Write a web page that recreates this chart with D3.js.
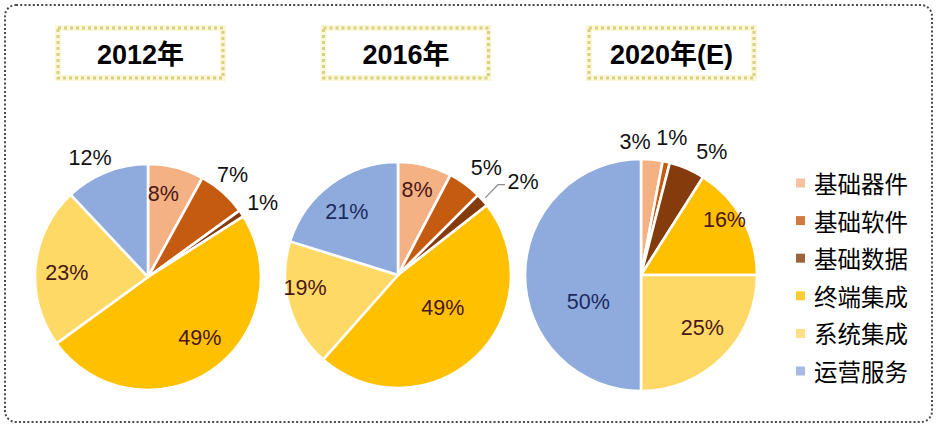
<!DOCTYPE html>
<html>
<head>
<meta charset="utf-8">
<script src="https://cdn.jsdelivr.net/npm/d3@7"></script>
<style>
  html, body { margin: 0; padding: 0; background: #fff; }
  svg { display: block; }
</style>
</head>
<body>
<svg id="chart" width="940" height="427"></svg>
<script>
// ---------------- data ----------------
const categories = ['基础器件', '基础软件', '基础数据', '终端集成', '系统集成', '运营服务'];
const years = ['2012年', '2016年', '2020年(E)'];
const values2012 = [8, 7, 1, 49, 23, 12];
const values2016 = [8, 5, 2, 49, 19, 21];
const values2020 = [3, 1, 5, 16, 25, 50];
const colors = ['#F4B183', '#C55A11', '#843C0C', '#FFC000', '#FFD966', '#8FAADC'];

// ---------------- layout ----------------
const W = 940, H = 427;
const svg = d3.select('#chart');
const labelFont = '"Liberation Sans", Arial, "Noto Sans CJK SC", sans-serif';
const cjkFont = '"Noto Sans CJK SC", "Noto Sans", sans-serif';

const pies = [
  { year: years[0], values: values2012, cx: 148, cy: 277, r: 113, boxCx: 140.5,
    // [radius factor, angle shift (deg), outside?]
    labels: [[0.75, -4, 0], [1.17, -1.6, 1], [1.21, 1.2, 1], [0.71, -6, 0], [0.72, -2.6, 0], [1.17, -4.4, 1]] },
  { year: years[1], values: values2016, cx: 398, cy: 275, r: 113, boxCx: 406,
    labels: [[0.77, -1.2, 0], [1.23, 3.1, 1], [1.38, 4.8, 2], [0.49, -10.7, 0], [0.83, 7.6, 0], [0.72, -2.7, 0]] },
  { year: years[2], values: values2020, cx: 641, cy: 275, r: 116, boxCx: 671.5,
    labels: [[1.15, -8, 1], [1.21, 0.1, 1], [1.22, 6.6, 1], [0.86, -4.4, 0], [0.70, -4, 0], [0.51, -27, 0]] }
];

// outer dotted rounded frame
svg.append('rect')
  .attr('x', 5).attr('y', 5).attr('width', 927).attr('height', 417)
  .attr('rx', 11).attr('ry', 11)
  .attr('fill', 'none').attr('stroke', '#4a4a4a')
  .attr('stroke-width', 2).attr('stroke-dasharray', '2,2.2');

const pieGen = d3.pie().sort(null).value(d => d);

pies.forEach(p => {
  // title box
  const bw = 165, bh = 50, by = 28;
  const g = svg.append('g');
  g.append('rect')
    .attr('x', p.boxCx - bw / 2).attr('y', by).attr('width', bw).attr('height', bh)
    .attr('fill', 'none').attr('stroke', '#FBF7D6').attr('stroke-width', 6);
  g.append('rect')
    .attr('x', p.boxCx - bw / 2).attr('y', by).attr('width', bw).attr('height', bh)
    .attr('fill', 'none').attr('stroke', '#D8D083').attr('stroke-width', 3)
    .attr('stroke-dasharray', '3,3');
  g.append('text')
    .attr('x', p.boxCx).attr('y', by + bh / 2 + 2)
    .attr('text-anchor', 'middle').attr('dominant-baseline', 'central')
    .attr('font-family', labelFont).attr('font-weight', 'bold')
    .attr('font-size', 27).attr('fill', '#000')
    .text(p.year);

  // pie
  const arcs = pieGen(p.values);
  const arc = d3.arc().innerRadius(0).outerRadius(p.r);
  const pg = svg.append('g').attr('transform', `translate(${p.cx},${p.cy})`);
  pg.selectAll('path').data(arcs).enter().append('path')
    .attr('d', arc)
    .attr('fill', (d, i) => colors[i])
    .attr('stroke', '#fff').attr('stroke-width', 2.6)
    .attr('stroke-linejoin', 'round');

  // labels
  arcs.forEach((d, i) => {
    const [rf, shift, mode] = p.labels[i];
    const mid = (d.startAngle + d.endAngle) / 2;
    const a = mid + shift * Math.PI / 180;
    const lx = Math.sin(a) * p.r * rf;
    const ly = -Math.cos(a) * p.r * rf;
    let fill;
    if (mode > 0) fill = '#111';
    else fill = i === 5 ? '#1d2a5e' : '#4a1616';
    if (mode === 2) {
      const sx = Math.sin(mid) * p.r * 1.03, sy = -Math.cos(mid) * p.r * 1.03;
      pg.append('polyline')
        .attr('points', [[sx, sy], [lx - 25, ly + 3], [lx - 18, ly + 3]].map(q => q.join(',')).join(' '))
        .attr('fill', 'none').attr('stroke', '#8c8c8c').attr('stroke-width', 1.2);
    }
    pg.append('text')
      .attr('x', lx).attr('y', ly)
      .attr('text-anchor', 'middle').attr('dominant-baseline', 'central')
      .attr('font-family', labelFont).attr('font-size', 21.5)
      .attr('fill', fill)
      .text(p.values[i] + '%');
  });
});

// legend
const lg = svg.append('g').attr('transform', 'translate(796,183)');
categories.forEach((c, i) => {
  const row = lg.append('g').attr('transform', `translate(0,${i * 37.6})`);
  row.append('rect')
    .attr('x', 0).attr('y', -4.5).attr('width', 9).attr('height', 9)
    .attr('fill', colors[i]).attr('opacity', 0.8);
  row.append('text')
    .attr('x', 18).attr('y', 0)
    .attr('dominant-baseline', 'central')
    .attr('font-family', cjkFont).attr('font-size', 23.5)
    .attr('fill', '#000')
    .text(c);
});
</script>
</body>
</html>
